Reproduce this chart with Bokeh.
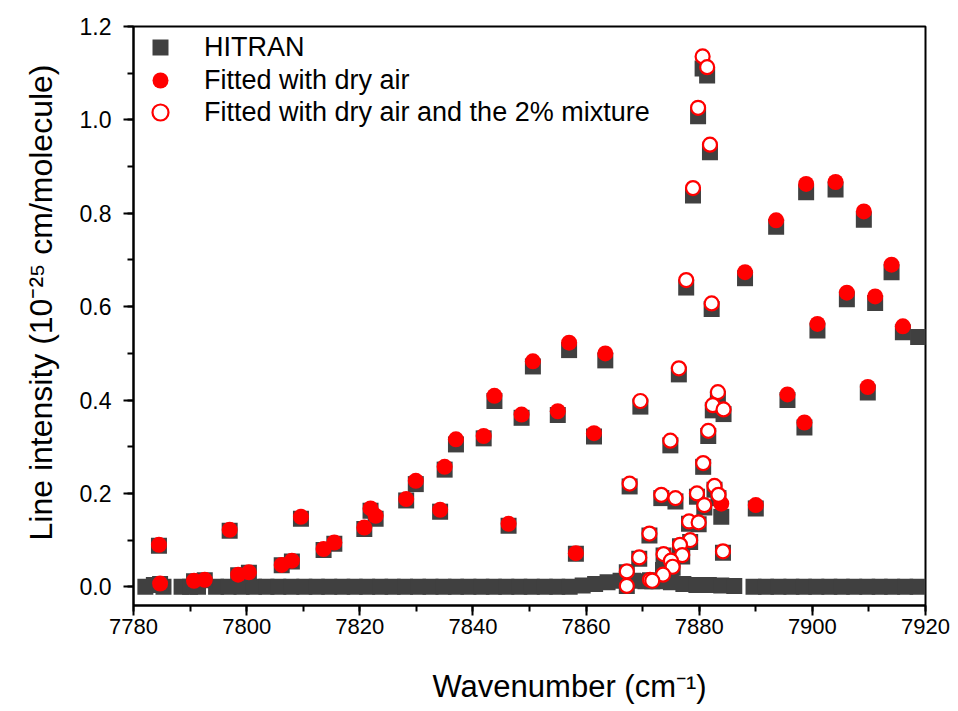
from bokeh.plotting import figure
from bokeh.models import (Range1d, SingleIntervalTicker, Legend, LegendItem,
                          PrintfTickFormatter, Title, LinearAxis, FixedTicker)
from bokeh.embed import file_html
from bokeh.resources import INLINE

# ---------------- data ----------------
# HITRAN weak lines (near zero)
weak_x = [7782.1, 7783.6, 7785.3, 7788.5, 7790.0, 7791.4, 7794.6, 7796.8, 7799.1,
          7801.3, 7803.5, 7805.6, 7807.9, 7810.2, 7812.4, 7814.6, 7816.9, 7819.1,
          7821.3, 7823.6, 7825.8, 7828.0, 7830.3, 7832.5, 7834.8, 7837.0, 7839.2,
          7841.5, 7843.7, 7845.9, 7848.2, 7850.4, 7852.7, 7854.9, 7857.1, 7859.4,
          7861.6, 7863.8, 7866.1, 7868.3, 7870.5, 7872.8, 7875.0, 7877.2, 7879.5,
          7881.7, 7883.9, 7886.2, 7889.6, 7891.8, 7894.0, 7896.3, 7898.5, 7900.7,
          7903.0, 7905.2, 7907.4, 7909.7, 7911.9, 7914.1, 7916.4, 7918.6]
weak_y = [0.000, 0.004, 0.000, 0.000, 0.000, 0.000, 0.000, 0.000, 0.000,
          0.000, 0.000, 0.000, 0.000, 0.000, 0.000, 0.000, 0.000, 0.000,
          0.000, 0.000, 0.000, 0.000, 0.000, 0.000, 0.000, 0.000, 0.000,
          0.000, 0.000, 0.000, 0.000, 0.000, 0.000, 0.000, 0.000, 0.003,
          0.006, 0.010, 0.013, 0.013, 0.012, 0.012, 0.010, 0.006, 0.004,
          0.004, 0.003, 0.002, 0.000, 0.000, 0.000, 0.000, 0.000, 0.000,
          0.000, 0.000, 0.000, 0.000, 0.000, 0.000, 0.000, 0.000]

# Fitted with dry air
dry_x = [7784.5, 7784.7, 7790.7, 7792.6, 7797.0, 7798.5, 7800.4, 7806.2, 7808.0,
         7809.6, 7813.6, 7815.5, 7820.8, 7821.9, 7822.8, 7828.2, 7829.9, 7834.2,
         7835.0, 7837.0, 7841.9, 7843.8, 7846.3, 7848.6, 7850.6, 7855.0, 7857.0,
         7858.2, 7861.4, 7863.4, 7883.9, 7888.1, 7890.0, 7893.6, 7895.6, 7898.6,
         7898.9, 7900.9, 7904.1, 7906.1, 7909.1, 7909.8, 7911.1, 7914.0, 7916.0]
dry_y = [0.090, 0.007, 0.013, 0.015, 0.122, 0.026, 0.031, 0.047, 0.056,
         0.150, 0.081, 0.095, 0.127, 0.168, 0.152, 0.188, 0.227, 0.165,
         0.257, 0.316, 0.323, 0.409, 0.135, 0.369, 0.483, 0.376, 0.523,
         0.072, 0.329, 0.500, 0.178, 0.674, 0.175, 0.785, 0.412, 0.352,
         0.863, 0.563, 0.867, 0.630, 0.804, 0.428, 0.622, 0.690, 0.558]
hitran_dry_y = [0.088, 0.006, 0.012, 0.014, 0.120, 0.025, 0.030, 0.046, 0.054,
                0.146, 0.079, 0.092, 0.124, 0.163, 0.146, 0.185, 0.220, 0.161,
                0.251, 0.305, 0.318, 0.398, 0.131, 0.362, 0.472, 0.368, 0.507,
                0.071, 0.322, 0.485, 0.150, 0.661, 0.168, 0.771, 0.400, 0.341,
                0.845, 0.549, 0.851, 0.616, 0.786, 0.416, 0.608, 0.674, 0.545]

# Fitted with dry air and the 2% mixture
mix_x = [7880.6, 7881.4, 7879.8, 7881.9, 7878.9, 7877.7, 7882.2, 7876.4, 7883.3,
         7869.6, 7882.4, 7884.3, 7881.6, 7874.9, 7880.7, 7867.7, 7882.7, 7879.6,
         7873.3, 7883.4, 7875.8, 7880.9, 7878.2, 7879.9, 7871.2, 7878.4, 7876.6,
         7884.2, 7873.7, 7877.0, 7869.4, 7875.0, 7875.3, 7867.2, 7873.6, 7871.3,
         7871.7, 7867.2]
mix_y = [1.136, 1.113, 1.026, 0.947, 0.854, 0.657, 0.607, 0.468, 0.417,
         0.398, 0.389, 0.380, 0.334, 0.313, 0.265, 0.221, 0.216, 0.200,
         0.197, 0.197, 0.190, 0.175, 0.140, 0.138, 0.114, 0.100, 0.090,
         0.076, 0.070, 0.068, 0.063, 0.056, 0.043, 0.033, 0.026, 0.015,
         0.013, 0.002]
hitran_mix_y = [1.110, 1.095, 1.008, 0.931, 0.838, 0.641, 0.595, 0.455, 0.403,
                0.386, 0.378, 0.370, 0.323, 0.303, 0.257, 0.215, 0.208, 0.193,
                0.190, 0.190, 0.183, 0.170, 0.135, 0.134, 0.110, 0.096, 0.087,
                0.073, 0.067, 0.065, 0.060, 0.054, 0.041, 0.031, 0.036, 0.014,
                0.012, 0.002]

# HITRAN line only (no fit)
extra_x = [7918.7]
extra_y = [0.535]

hitran_x = weak_x + dry_x + mix_x + extra_x
hitran_y = weak_y + hitran_dry_y + hitran_mix_y + extra_y

series_labels = ["HITRAN", "Fitted with dry air",
                 "Fitted with dry air and the 2% mixture"]
x_title = "Wavenumber (cm\u207b\u00b9)"
y_title = "Line intensity (10\u207b\u00b2\u2075 cm/molecule)"

FONT = "Liberation Sans"

p = figure(width=958, height=711, output_backend="svg", toolbar_location=None,
           x_range=Range1d(7780, 7920), y_range=Range1d(-0.04, 1.2001),
           min_border_left=133, min_border_right=33, min_border_top=26,
           min_border_bottom=106)
p.grid.visible = False
p.outline_line_color = "black"
p.outline_line_width = 2
p.background_fill_color = "white"

r_h = p.scatter(hitran_x, hitran_y, marker="square", size=16,
                fill_color="#404040", line_color="#404040", line_width=0)
r_d = p.scatter(dry_x, dry_y, marker="circle", size=16,
                fill_color="#ff0000", line_color="#ff0000", line_width=0)
r_m = p.scatter(mix_x, mix_y, marker="circle", size=14,
                fill_color="white", line_color="#ff0000", line_width=2.2)

# axes
p.xaxis.ticker = SingleIntervalTicker(interval=20, num_minor_ticks=2)
p.yaxis.ticker = SingleIntervalTicker(interval=0.2, num_minor_ticks=2)
p.yaxis.formatter = PrintfTickFormatter(format="%.1f")
for ax in (p.xaxis[0], p.yaxis[0]):
    ax.axis_line_width = 2
    ax.axis_line_color = "black"
    ax.major_tick_line_width = 2
    ax.minor_tick_line_width = 2
    ax.major_tick_out = 10
    ax.major_tick_in = 0
    ax.minor_tick_out = 6
    ax.minor_tick_in = 0
    ax.major_label_text_font = FONT
    ax.major_label_text_color = "black"
p.xaxis.major_label_text_font_size = "22px"
p.yaxis.major_label_text_font_size = "23px"
p.xaxis.major_label_standoff = 3
p.yaxis.major_label_standoff = 12

# invisible spacer below the x axis: one tick that is practically transparent
# and has no label text, so it only reserves room
spacer = LinearAxis(ticker=FixedTicker(ticks=[7850], minor_ticks=[]),
                    axis_line_color=None, major_tick_out=29, major_tick_in=0,
                    minor_tick_out=0, minor_tick_in=0,
                    major_tick_line_alpha=0.001, major_tick_line_color="white",
                    major_label_text_color=None, major_label_standoff=0)
p.add_layout(spacer, "below")

# axis titles, placed off-centre as in the reference
p.add_layout(Title(text=x_title, align="left", offset=299,
                   vertical_align="middle", standoff=4,
                   text_font=FONT, text_font_size="31px",
                   text_font_style="normal", text_color="black"), "below")
p.add_layout(Title(text=y_title, align="left", offset=65,
                   vertical_align="middle", standoff=34,
                   text_font=FONT, text_font_size="32px",
                   text_font_style="normal", text_color="black"), "left")

# one legend per row so the rows sit 33 px apart with 16 px legend markers
frame_h = 711 - 26 - 106
row_offsets = [0, 33, 65]
for lbl, rend, off in zip(series_labels, [r_h, r_d, r_m], row_offsets):
    leg = Legend(items=[LegendItem(label=lbl, renderers=[rend])],
                 location=(0, frame_h - off - 42), margin=0, padding=1,
                 glyph_width=52, glyph_height=40, spacing=0, label_standoff=18,
                 label_text_font=FONT, label_text_font_size="27px",
                 label_text_color="black",
                 background_fill_alpha=0, border_line_alpha=0)
    p.add_layout(leg)

open("out.html", "w").write(file_html(p, INLINE))
